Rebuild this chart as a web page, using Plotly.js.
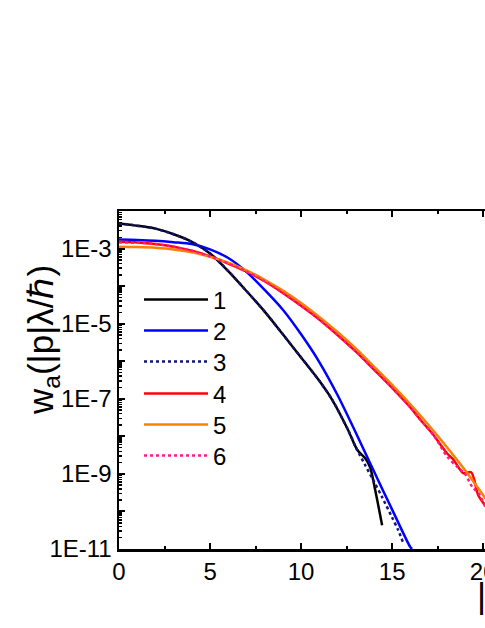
<!DOCTYPE html>
<html>
<head>
<meta charset="utf-8">
<script src="https://cdn.plot.ly/plotly-3.0.1.min.js"></script>
<style>
  html, body { margin: 0; padding: 0; overflow: hidden; background: #fff; }
  #graph { width: 952px; height: 628px; }
</style>
</head>
<body>
<div id="graph"></div>
<script>
// |p|lambda/hbar vs w_a

var x1 = [0, 1, 2, 3, 4, 5, 6, 7, 8, 9, 10, 11, 11.7, 12.58, 13.08, 13.52, 13.79, 14.07, 14.45];
var y1 = [4.68e-3, 4.07e-3, 3.4e-3, 2.4e-3, 1.51e-3, 7.4e-4, 2.51e-4, 7.4e-5, 2.09e-5, 5.2e-6,
          1.26e-6, 3.0e-7, 9.5e-8, 1.48e-8, 4.4e-9, 2.6e-9, 1.5e-9, 3.7e-10, 4.3e-11];

var x2 = [0, 1, 2, 3, 4, 5, 6, 7, 8, 9, 10, 11, 12, 13, 14, 15, 16, 16.1];
var y2 = [1.74e-3, 1.70e-3, 1.62e-3, 1.48e-3, 1.32e-3, 9.5e-4, 5.6e-4, 2.4e-4, 7.9e-5, 2.34e-5,
          5.2e-6, 9.5e-7, 1.26e-7, 1.26e-8, 1.17e-9, 1.12e-10, 1.12e-11, 1.0e-11];

var x3 = [0, 1, 2, 3, 4, 5, 6, 7, 8, 9, 10, 11, 11.7, 12.58, 13, 13.5, 14, 14.45, 15, 15.33, 15.6];
var y3 = [4.68e-3, 4.07e-3, 3.4e-3, 2.4e-3, 1.51e-3, 7.4e-4, 2.51e-4, 7.4e-5, 2.09e-5, 5.2e-6,
          1.26e-6, 3.0e-7, 9.5e-8, 1.48e-8, 5.2e-9, 1.78e-9, 6.3e-10, 2.4e-10, 6.9e-11, 3.2e-11, 1.48e-11];

var x4 = [0, 1, 2, 3, 4, 5, 6, 7, 8, 9, 10, 11, 12, 13, 14, 15, 16, 16.54, 17.25, 18.02, 18.35, 18.9, 19.34, 19.73, 20.11, 20.6];
var y4 = [1.51e-3, 1.45e-3, 1.32e-3, 1.12e-3, 8.7e-4, 6.2e-4, 4.0e-4, 2.45e-4, 1.35e-4, 6.6e-5,
          3.0e-5, 1.29e-5, 5.0e-6, 1.82e-6, 6.0e-7, 1.95e-7, 5.9e-8, 2.8e-8, 1.12e-8, 3.5e-9,
          2.45e-9, 1.05e-9, 1.1e-9, 2.7e-10, 1.45e-10, 7.9e-11];

var x5 = [0, 1, 2, 3, 4, 5, 6, 7, 8, 9, 10, 11, 12, 13, 14, 15, 16, 17, 18, 19, 20, 20.6];
var y5 = [1.12e-3, 1.10e-3, 1.05e-3, 9.5e-4, 7.9e-4, 6.0e-4, 4.2e-4, 2.63e-4, 1.48e-4, 7.6e-5,
          3.55e-5, 1.51e-5, 6.0e-6, 2.19e-6, 7.2e-7, 2.34e-7, 7.1e-8, 2.0e-8, 5.2e-9, 1.26e-9,
          2.7e-10, 1.12e-10];

var x6 = [0, 1, 2, 3, 4, 5, 6, 7, 8, 9, 10, 11, 12, 13, 14, 15, 16, 16.54, 17.25, 18.0, 18.6, 19.0, 19.4, 19.8, 20.1, 20.6];
var y6 = [1.45e-3, 1.42e-3, 1.32e-3, 1.12e-3, 8.7e-4, 6.2e-4, 4.0e-4, 2.45e-4, 1.35e-4, 6.6e-5,
          3.0e-5, 1.29e-5, 5.0e-6, 1.82e-6, 6.0e-7, 1.95e-7, 5.9e-8, 2.8e-8, 1.12e-8, 3.0e-9,
          1.5e-9, 1.0e-9, 4.5e-10, 2.8e-10, 1.4e-10, 7.9e-11];

var names = ['1', '2', '3', '4', '5', '6'];
var colors = ['#000000', '#0000ff', '#14147a', '#ff0000', '#ff8000', '#ff1a8c'];
var dashes = ['solid', 'solid', 'dot', 'solid', 'solid', 'dot'];

var xs = [x1, x2, x3, x4, x5, x6];
var ys = [y1, y2, y3, y4, y5, y6];

// y ticks: every decade, label every second one
var decades = [-11, -10, -9, -8, -7, -6, -5, -4, -3, -2];
var ytv = [], ytt = [], yminor = [];
for (var i = 0; i < decades.length; i++) {
  var d = decades[i];
  ytv.push(Math.pow(10, d));
  ytt.push((d % 2 !== 0) ? ('1E' + d) : '');
  if (d < -2) {
    for (var m = 2; m <= 9; m++) yminor.push(m * Math.pow(10, d));
  }
}

var plotW = 43 * 18.2;
var plotH = 338;
var fnt = 'Liberation Sans, Arial, sans-serif';

// pixel -> paper helpers for the titles and legend
function px(v) { return (v - 119) / plotW; }
function py(v) { return (549 - v) / plotH; }

// one legend box per entry so the rows sit like the original
var legendRows = [300, 331, 362, 394, 425, 456];

var traces = [];
for (var k = 0; k < 6; k++) {
  traces.push({
    x: xs[k],
    y: ys[k],
    name: names[k],
    legend: k === 0 ? 'legend' : 'legend' + (k + 1),
    type: 'scatter',
    mode: 'lines',
    line: { color: colors[k], width: 2.5, dash: dashes[k], shape: 'spline', smoothing: 0.8 }
  });
}

var layout = {
  width: 952,
  height: 628,
  margin: { l: 119, r: 952 - 119 - plotW, t: 211, b: 79 },
  paper_bgcolor: '#fff',
  plot_bgcolor: '#fff',
  font: { family: fnt, size: 24, color: '#000' },
  showlegend: true,
  xaxis: {
    range: [0, 43],
    showgrid: false,
    zeroline: false,
    showline: true,
    linecolor: '#000',
    linewidth: 2.5,
    mirror: 'allticks',
    ticks: 'inside',
    ticklen: 6,
    tickwidth: 2,
    tickcolor: '#000',
    tickmode: 'linear',
    tick0: 0,
    dtick: 5,
    minor: { ticks: 'inside', ticklen: 3, tickwidth: 2, dtick: 2.5, tick0: 0, tickcolor: '#000' },
    automargin: false
  },
  yaxis: {
    type: 'log',
    range: [-11, -2],
    showgrid: false,
    zeroline: false,
    showline: true,
    linecolor: '#000',
    linewidth: 2.5,
    mirror: 'allticks',
    ticks: 'inside',
    ticklen: 6,
    tickwidth: 2,
    tickcolor: '#000',
    tickmode: 'array',
    tickvals: ytv,
    ticktext: ytt,
    minor: { ticks: 'inside', ticklen: 3, tickwidth: 1.5, tickmode: 'array', tickvals: yminor, tickcolor: '#000' },
    automargin: false
  },
  annotations: [
    {
      text: 'w<sub>a</sub>(|p|λ/ℏ)',
      xref: 'paper', yref: 'paper',
      x: px(43), y: py(340),
      xanchor: 'center', yanchor: 'middle',
      textangle: -90,
      showarrow: false,
      font: { size: 35 }
    },
    {
      text: '|p|λ/ℏ',
      xref: 'paper', yref: 'paper',
      x: px(475), y: py(595),
      xanchor: 'left', yanchor: 'middle',
      showarrow: false,
      font: { size: 35 }
    }
  ]
};

for (var r = 0; r < legendRows.length; r++) {
  layout[r === 0 ? 'legend' : 'legend' + (r + 1)] = {
    x: px(139), y: py(legendRows[r]),
    xanchor: 'left', yanchor: 'middle',
    bgcolor: 'rgba(0,0,0,0)',
    font: { size: 24 },
    itemwidth: 64
  };
}

Plotly.newPlot('graph', traces, layout, { staticPlot: true, displayModeBar: false });
</script>
</body>
</html>
